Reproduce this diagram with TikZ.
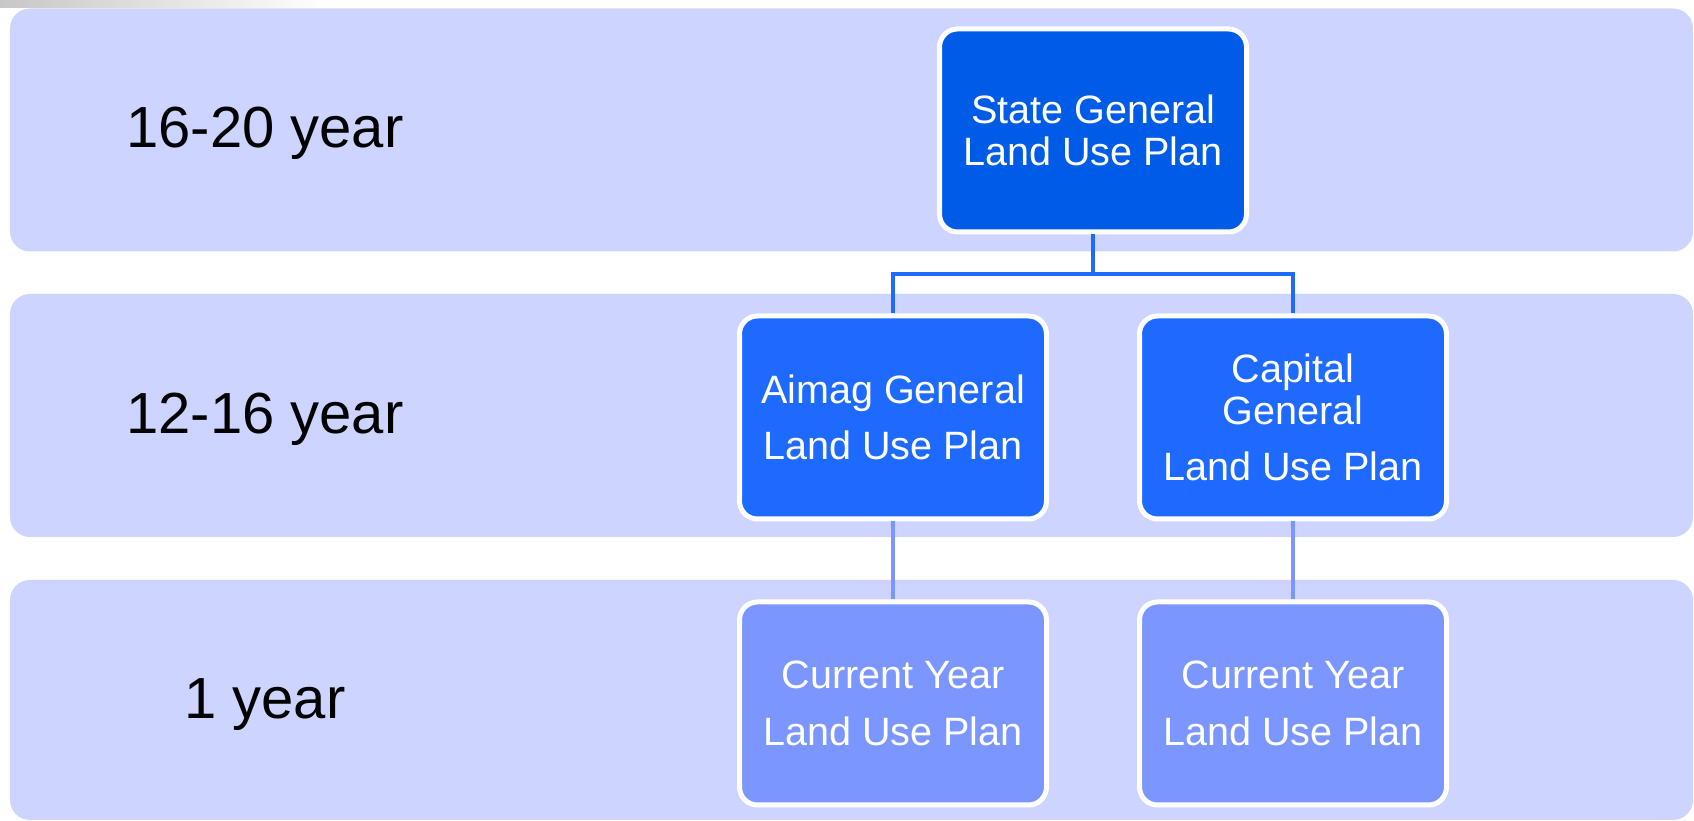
\documentclass[tikz,border=0pt]{standalone}
\usepackage{fontspec}
\setmainfont{Liberation Sans}
\usetikzlibrary{positioning}
\definecolor{bandblue}{RGB}{204,212,255}
\definecolor{topblue}{RGB}{0,92,230}
\definecolor{midblue}{RGB}{30,106,255}
\definecolor{lowblue}{RGB}{123,150,255}
\begin{document}
\begin{tikzpicture}[
  band/.style={rectangle, rounded corners=0.2cm, fill=bandblue, minimum width=16.83cm, minimum height=2.43cm, inner sep=0pt},
  plan/.style={rectangle, rounded corners=0.18cm, draw=white, line width=0.05cm, minimum width=3.07cm, minimum height=2.03cm, inner sep=0pt, align=center, text=white, font=\fontsize{11.25}{12}\selectfont},
  period/.style={anchor=base, font=\fontsize{16.5}{19}\selectfont},
  link/.style={line width=0.04cm, midblue},
  sublink/.style={line width=0.04cm, lowblue}
]
\useasboundingbox (0,0) rectangle (16.94,-8.21);
\shade[left color=black!22, right color=white] (0,0) rectangle (3.3,-0.08);

\node[band] at (8.515,-1.30) (row1) {};
\node[band] at (8.515,-4.155) (row2) {};
\node[band, minimum height=2.40cm] at (8.515,-7.00) (row3) {};

\node[period] at (2.65,-1.48) (label1) {16-20 year};
\node[period] at (2.65,-4.34) (label2) {12-16 year};
\node[period] at (2.65,-7.19) (label3) {1 year};

\node[plan, fill=topblue] at (10.93,-1.305) (state) {State General\\Land Use Plan};
\node[plan, fill=midblue] at (8.93,-4.175) (aimag) {Aimag General\\[4pt]Land Use Plan};
\node[plan, fill=midblue] at (12.93,-4.175) (capital) {Capital\\General\\[4pt]Land Use Plan};
\node[plan, fill=lowblue, below=0.78cm of aimag] (current1) {Current Year\\[4pt]Land Use Plan};
\node[plan, fill=lowblue, below=0.78cm of capital] (current2) {Current Year\\[4pt]Land Use Plan};

\coordinate (split) at (10.93,-2.74);
\draw[link] (state.south) -- (split) -| (aimag.north);
\draw[link] (split) -| (capital.north);
\draw[sublink] (aimag.south) -- (current1.north);
\draw[sublink] (capital.south) -- (current2.north);
\end{tikzpicture}
\end{document}
